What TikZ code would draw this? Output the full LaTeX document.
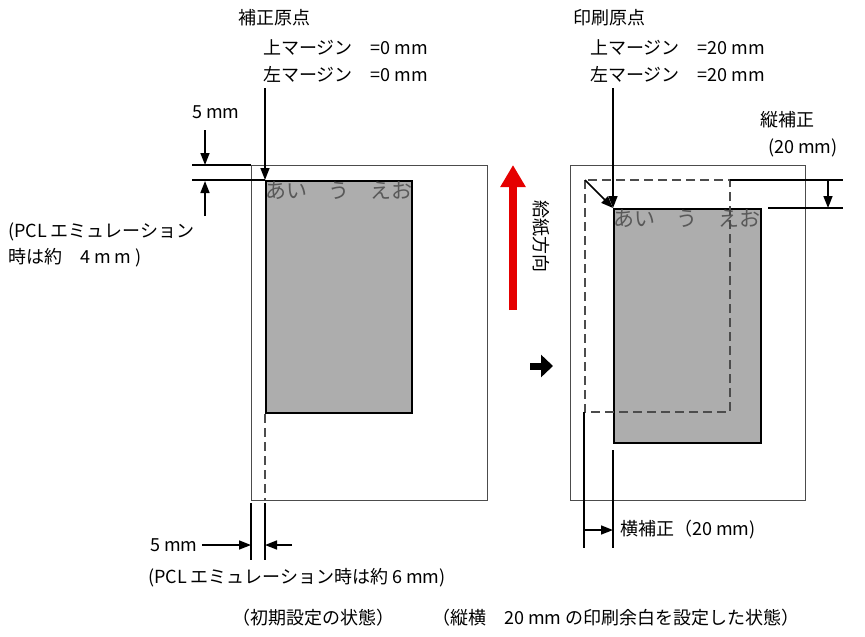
\documentclass[tikz,border=0pt]{standalone}
\usepackage{fontspec}
\setmainfont{Noto Sans CJK JP}
\usetikzlibrary{arrows.meta}
\begin{document}
\begin{tikzpicture}[x=1pt,y=-1pt,
  lbl/.style={font=\fontsize{18}{20}\selectfont,inner sep=0pt,anchor=west},
  pg/.style={draw=black!70,line width=1pt},
  box/.style={draw=black,fill=black!32,line width=2pt},
  thin/.style={line width=1.3pt},
  arr/.style={line width=1.6pt,-{Triangle[length=12pt,width=9pt]}},
  kana/.style={font=\fontsize{21}{23}\selectfont,text=black!65,inner sep=0pt,anchor=north west},
  dsh/.style={draw=black!70,dash pattern=on 9pt off 5pt,line width=1.1pt}]
\useasboundingbox (0,0) rectangle (865,637);
% left page
\node[pg,minimum width=236pt,minimum height=335pt,anchor=north west,inner sep=0pt] (lp) at (251,165) {};
\node[box,minimum width=146pt,minimum height=232pt,anchor=north west,inner sep=0pt] (lb) at (265,180) {};
\node[kana] (lk) at (265,182) {あい　う　えお};
\coordinate (lt1) at (192,165); \coordinate (lt2) at (192,180);
\draw[thin] (lt1) -- (lp.north west);
\draw[thin] (lt2) -- (lb.north west);
\draw[dsh] (lb.south west) -- (265,500);
\node[lbl] (t1) at (238,18) {補正原点};
\node[lbl] (t2) at (263,47) {上マージン　=0 mm};
\node[lbl] (t3) at (263,74) {左マージン　=0 mm};
\coordinate (a1) at (265,88);
\draw[arr] (a1) -- (lb.north west);
\node[lbl] (f1) at (192,112) {5 mm};
\coordinate (f1a) at (205,130);
\draw[arr] (f1a) -- (205,165);
\coordinate (f2a) at (205,216);
\draw[arr] (f2a) -- (205,181);
\node[lbl] (p1) at (8,232) {(PCL エミュレーション};
\node[lbl] (p2) at (8,258) {時は約　4 m m )};
\coordinate (v1a) at (251,503); \coordinate (v1b) at (251,560);
\coordinate (v2a) at (265,503); \coordinate (v2b) at (265,560);
\draw[thin] (v1a) -- (v1b); \draw[thin] (v2a) -- (v2b);
\node[lbl] (f3) at (150,545) {5 mm};
\draw[arr] (f3.east) ++(4,0) -- (251,545);
\coordinate (r3) at (292,545);
\draw[arr] (r3) -- (265,545);
\node[lbl] (p3) at (148,578) {(PCL エミュレーション時は約 6 mm)};
\node[lbl] (c1) at (232,618) {（初期設定の状態）};
\node[lbl] (c2) at (432,618) {（縦横　20 mm の印刷余白を設定した状態）};
% middle
\coordinate (ra) at (513,310); \coordinate (rb) at (513,165);
\draw[red!90!black,line width=8pt,-{Triangle[length=22pt,width=24pt]}] (ra) -- (rb);
\node[lbl,rotate=-90,anchor=west] (gk) at (541,200) {給紙方向};
\coordinate (ba) at (530,366); \coordinate (bb) at (553,366);
\draw[line width=7pt,-{Triangle[length=12pt,width=22pt]}] (ba) -- (bb);
% right page
\node[pg,minimum width=235pt,minimum height=335pt,anchor=north west,inner sep=0pt] (rp) at (570,165) {};
\node[box,minimum width=147pt,minimum height=234pt,anchor=north west,inner sep=0pt] (rbx) at (613,208) {};
\node[kana] (rk) at (613,210) {あい　う　えお};
\draw[dsh] (585,180) rectangle (730,412);
\coordinate (dtl) at (585,180);
\node[lbl] (s1) at (573,18) {印刷原点};
\node[lbl] (s2) at (590,47) {上マージン　=20 mm};
\node[lbl] (s3) at (590,74) {左マージン　=20 mm};
\coordinate (a2) at (613,88);
\draw[arr] (a2) -- (rbx.north west);
\draw[arr] (dtl) -- (rbx.north west);
\coordinate (h1a) at (730,180); \coordinate (h1b) at (843,180);
\coordinate (h2a) at (768,208); \coordinate (h2b) at (843,208);
\draw[thin] (h1a) -- (h1b); \draw[thin] (h2a) -- (h2b);
\draw[arr] (828,180) -- (828,208);
\node[lbl] (s4) at (760,120) {縦補正};
\node[lbl] (s5) at (768,148) {(20 mm)};
\coordinate (q1a) at (584,412); \coordinate (q1b) at (584,548);
\coordinate (q2a) at (613,450); \coordinate (q2b) at (613,548);
\draw[line width=2pt] (q1a) -- (q1b); \draw[line width=2pt] (q2a) -- (q2b);
\draw[arr] (584,530) -- (613,530);
\node[lbl] (s6) at (620,530) {横補正（20 mm)};
\end{tikzpicture}
\end{document}
